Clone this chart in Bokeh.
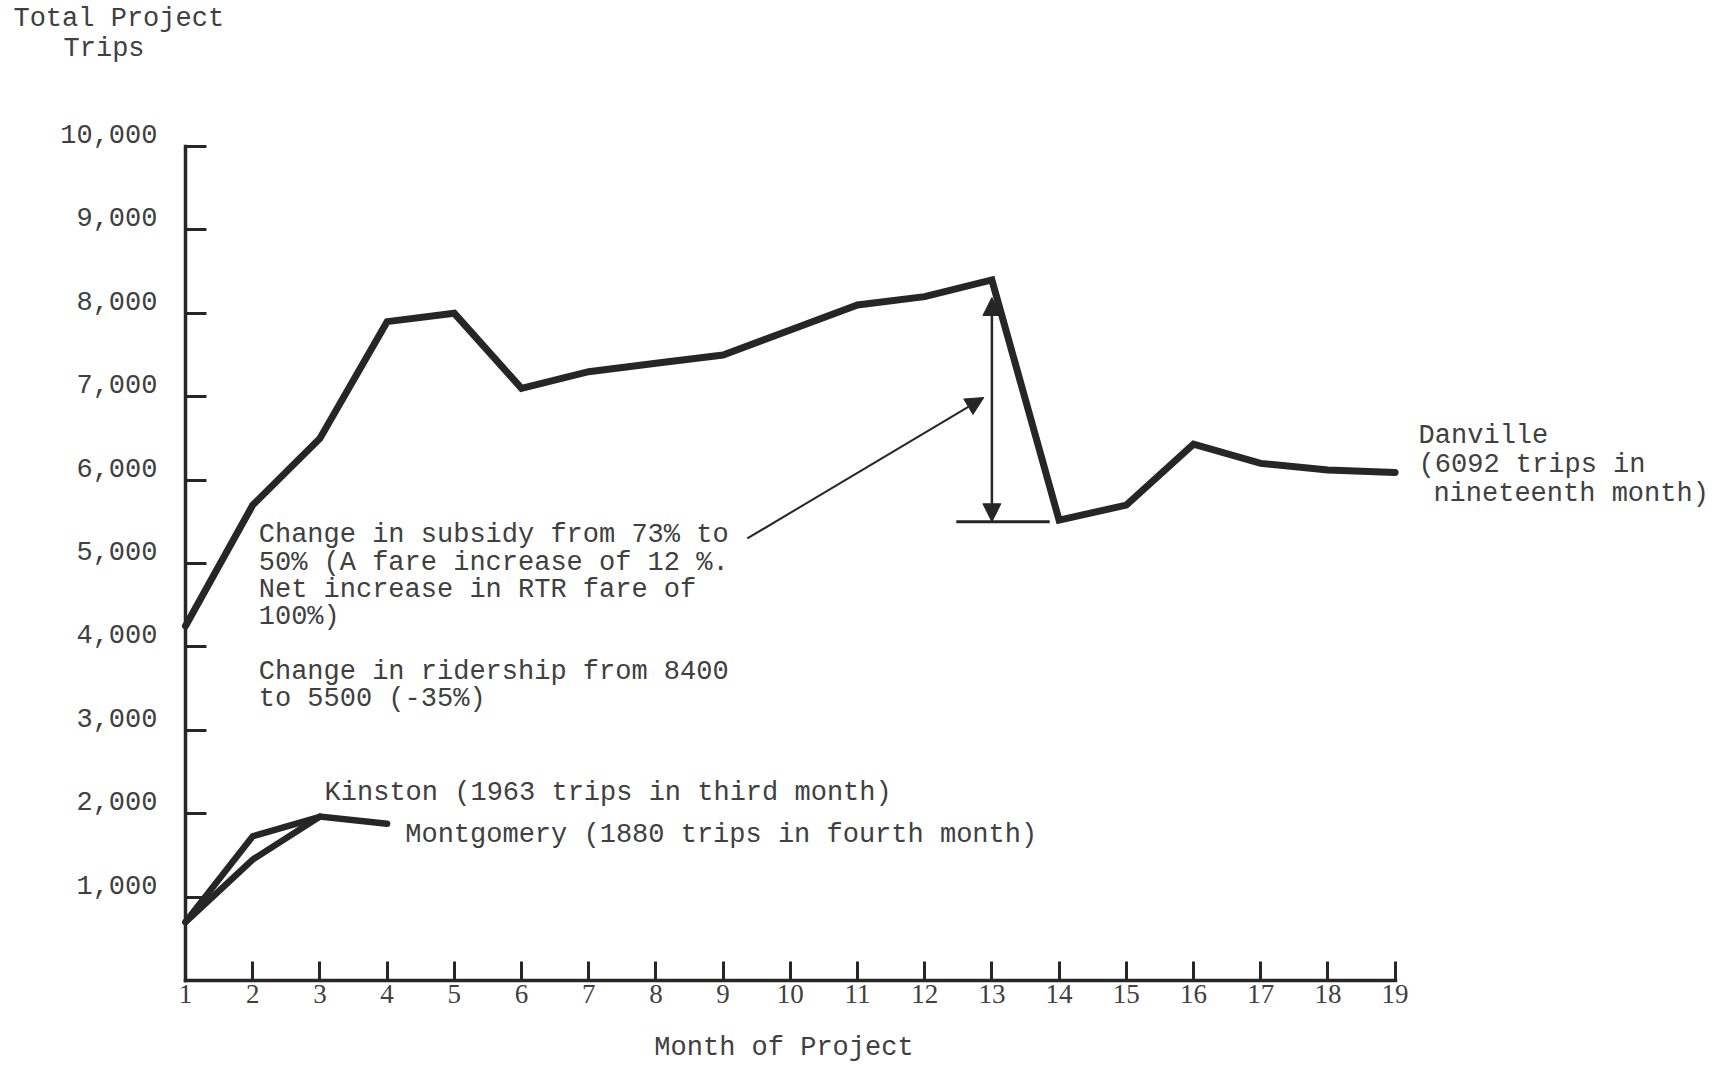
from bokeh.plotting import figure
from bokeh.models import Range1d, LinearAxis, FixedTicker, Arrow, NormalHead, ColumnDataSource
from bokeh.core.properties import value
from bokeh.embed import file_html
from bokeh.resources import INLINE

# ---------------- data ----------------
months = list(range(1, 20))
danville = [4250, 5700, 6500, 7900, 8000, 7100, 7300, 7400, 7500, 7800,
            8100, 8200, 8400, 5520, 5700, 6430, 6200, 6120, 6092]
kinston_months = [1, 2, 3]
kinston = [700, 1730, 1963]
montgomery_months = [1, 2, 3, 4]
montgomery = [700, 1450, 1965, 1880]

y_ticks = [1000, 2000, 3000, 4000, 5000, 6000, 7000, 8000, 9000, 10000]
y_tick_labels = ["1,000", "2,000", "3,000", "4,000", "5,000",
                 "6,000", "7,000", "8,000", "9,000", "10,000"]
x_ticks = months
x_tick_labels = [str(m) for m in months]

ridership_from = 8400
ridership_to = 5500
change_month = 13

subsidy_note = ["Change in subsidy from 73% to",
                "50% (A fare increase of 12 %.",
                "Net increase in RTR fare of",
                "100%)"]
ridership_note = ["Change in ridership from 8400",
                  "to 5500 (-35%)"]
danville_note = ["Danville", "(6092 trips in", "nineteenth month)"]
kinston_note = "Kinston (1963 trips in third month)"
montgomery_note = "Montgomery (1880 trips in fourth month)"
y_title = ["Total Project", "Trips"]
x_title = "Month of Project"

# ---------------- layout ----------------
W, H = 1726, 1066
PX_MONTH = 67.2      # pixels per month
PX_TRIP = 0.0834     # pixels per trip
ORIGIN_X = 185       # px of month 1
ORIGIN_Y = 980       # px of 0 trips

x0 = 1 - ORIGIN_X / PX_MONTH
x1 = x0 + W / PX_MONTH
y1 = ORIGIN_Y / PX_TRIP
y0 = -(H - ORIGIN_Y) / PX_TRIP

INK = "#262626"
TEXT = "#404040"
MONO = value("Liberation Mono")
FS = "27px"
LINE_STEP = 27.3 / PX_TRIP

p = figure(width=W, height=H, output_backend="svg", toolbar_location=None,
           x_axis_type=None, y_axis_type=None,
           x_range=Range1d(x0, x1), y_range=Range1d(y0, y1),
           min_border=0, outline_line_color=None,
           background_fill_color="white", border_fill_color="white")

# axes
yaxis = LinearAxis(fixed_location=1, bounds=(0, 10000),
                   ticker=FixedTicker(ticks=y_ticks),
                   major_tick_in=21, major_tick_out=0,
                   minor_tick_in=0, minor_tick_out=0,
                   axis_line_width=3.5, axis_line_color=INK, axis_line_cap="square",
                   major_tick_line_width=3, major_tick_line_color=INK,
                   major_label_overrides={t: "" for t in y_ticks})
p.add_layout(yaxis, "left")

xaxis = LinearAxis(fixed_location=0, bounds=(1, 19),
                   ticker=FixedTicker(ticks=x_ticks),
                   major_tick_in=19, major_tick_out=0,
                   minor_tick_in=0, minor_tick_out=0,
                   axis_line_width=3.5, axis_line_color=INK, axis_line_cap="square",
                   major_tick_line_width=3, major_tick_line_color=INK,
                   major_label_overrides={m: l for m, l in zip(x_ticks, x_tick_labels)},
                   major_label_text_font="Liberation Serif",
                   major_label_text_font_size="27px",
                   major_label_text_color=TEXT,
                   major_label_standoff=4)
p.add_layout(xaxis, "below")

# y tick labels (typed slightly above their ticks)
p.text(x=[0.583] * len(y_ticks), y=[t + 150 for t in y_ticks], text=y_tick_labels,
       text_font=MONO, text_font_size=FS, text_color=TEXT,
       text_align="right", text_baseline="middle")

# data lines
p.line(months, danville, line_width=7, line_color=INK, line_join="miter", line_cap="round")
p.line(kinston_months, kinston, line_width=6.5, line_color=INK, line_join="miter", line_cap="round")
p.line(montgomery_months, montgomery, line_width=6.5, line_color=INK, line_join="miter", line_cap="round")

# change annotation
p.segment(x0=[12.47], y0=[ridership_to], x1=[13.86], y1=[ridership_to],
          line_width=3, line_color=INK)
p.add_layout(Arrow(x_start=change_month, y_start=ridership_to,
                   x_end=change_month, y_end=ridership_from - 210,
                   line_width=2.5, line_color=INK,
                   start=NormalHead(size=18, fill_color=INK, line_color=INK),
                   end=NormalHead(size=18, fill_color=INK, line_color=INK)))
p.add_layout(Arrow(x_start=9.36, y_start=5300, x_end=12.88, y_end=6990,
                   line_width=2, line_color=INK,
                   end=NormalHead(size=18, fill_color=INK, line_color=INK)))

# annotation texts
tx, ty, tt = [], [], []
for i, s in enumerate(subsidy_note):
    tx.append(2.09); ty.append(5336 - i * LINE_STEP); tt.append(s)
for i, s in enumerate(ridership_note):
    tx.append(2.09); ty.append(3705 - i * LINE_STEP); tt.append(s)
tx.append(3.07); ty.append(2254); tt.append(kinston_note)
tx.append(4.27); ty.append(1739); tt.append(montgomery_note)
danville_x = [19.35, 19.35, 19.57]
for i, s in enumerate(danville_note):
    tx.append(danville_x[i]); ty.append(6523 - i * LINE_STEP * 1.05); tt.append(s)
tx.append(-1.56); ty.append(11523); tt.append(y_title[0])
tx.append(-0.815); ty.append(11175); tt.append(y_title[1])

src = ColumnDataSource(dict(x=tx, y=ty, text=tt))
p.text(x="x", y="y", text="text", source=src,
       text_font=MONO, text_font_size=FS, text_color=TEXT,
       text_align="left", text_baseline="middle")

p.text(x=[9.906], y=[-815], text=[x_title],
       text_font=MONO, text_font_size=FS, text_color=TEXT,
       text_align="center", text_baseline="alphabetic")

open("out.html", "w").write(file_html(p, INLINE))
